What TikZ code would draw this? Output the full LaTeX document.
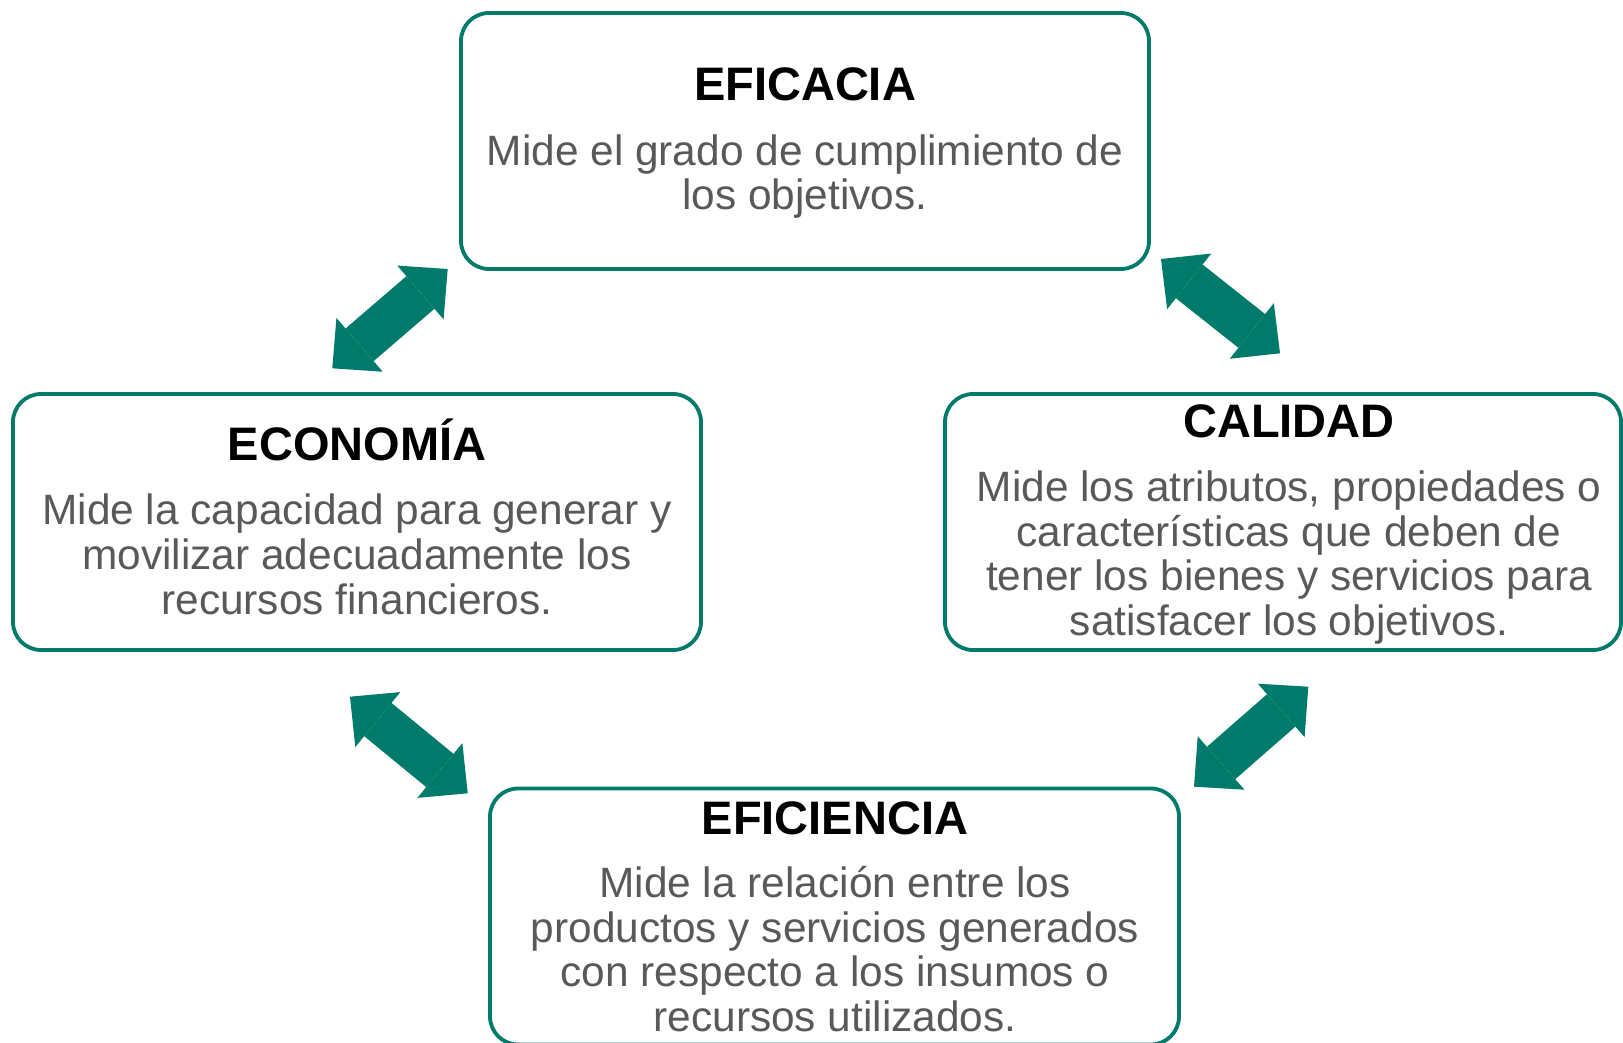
\documentclass[tikz,border=0pt]{standalone}
\usepackage{fontspec}
\setmainfont{Liberation Sans}
\usetikzlibrary{arrows.meta}
\definecolor{tealA}{RGB}{0,122,107}
\definecolor{txtgray}{RGB}{89,89,89}
\begin{document}
\begin{tikzpicture}[x=1pt,y=-1pt,
  box/.style={draw=tealA, line width=3.8pt, rounded corners=28pt, minimum height=256pt, inner sep=0pt},
  ttl/.style={anchor=base, font=\fontsize{47}{52}\selectfont\bfseries, text=black, inner sep=0pt},
  body/.style={anchor=base, align=center, font=\fontsize{42.4}{44.6}\selectfont, text=txtgray, inner sep=0pt},
  tipA/.tip={Triangle[length=36pt 0 0,width=71pt 0 0,line width=0pt]},
  link/.style={draw=tealA, line width=43pt, tipA-tipA}]
\useasboundingbox (0,0) rectangle (1623,1043);
\fill[white] (0,0) rectangle (1623,1043);
% boxes
\node[box, minimum width=688pt] (eficacia) at (805,141) {};
\node[box, minimum width=688pt] (economia) at (357,522) {};
\node[box, minimum width=676pt] (calidad) at (1283,522) {};
\node[box, minimum width=689pt] (eficiencia) at (834.5,916.5) {};
% titles
\node[ttl] (t1) at (805,101) {EFICACIA};
\node[ttl] (t2) at (357,460) {ECONOMÍA};
\node[ttl] (t3) at (1289,437.5) {CALIDAD};
\node[ttl] (t4) at (835,834) {EFICIENCIA};
% bodies (anchor = baseline of last line)
\node[body] (b1) at (805,210) {Mide el grado de cumplimiento de\\los objetivos.};
\node[body] (b2) at (357,614) {Mide la capacidad para generar y\\movilizar adecuadamente los\\recursos financieros.};
\node[body] (b3) at (1289,635.5) {Mide los atributos, propiedades o\\características que deben de\\tener los bienes y servicios para\\satisfacer los objetivos.};
\node[body] (b4) at (835,1031.5) {Mide la relación entre los\\productos y servicios generados\\con respecto a los insumos o\\recursos utilizados.};
% arrows
\coordinate (a1) at (332.3,368.3);
\coordinate (a2) at (447.7,269);
\coordinate (c1) at (1161,259);
\coordinate (c2) at (1280,353.3);
\coordinate (e1) at (350,696.7);
\coordinate (e2) at (467.7,793.3);
\coordinate (d1) at (1308.3,686.7);
\coordinate (d2) at (1194,786.7);
\draw[link] (a1) -- (a2);
\draw[link] (c1) -- (c2);
\draw[link] (e1) -- (e2);
\draw[link] (d1) -- (d2);
\end{tikzpicture}
\end{document}
